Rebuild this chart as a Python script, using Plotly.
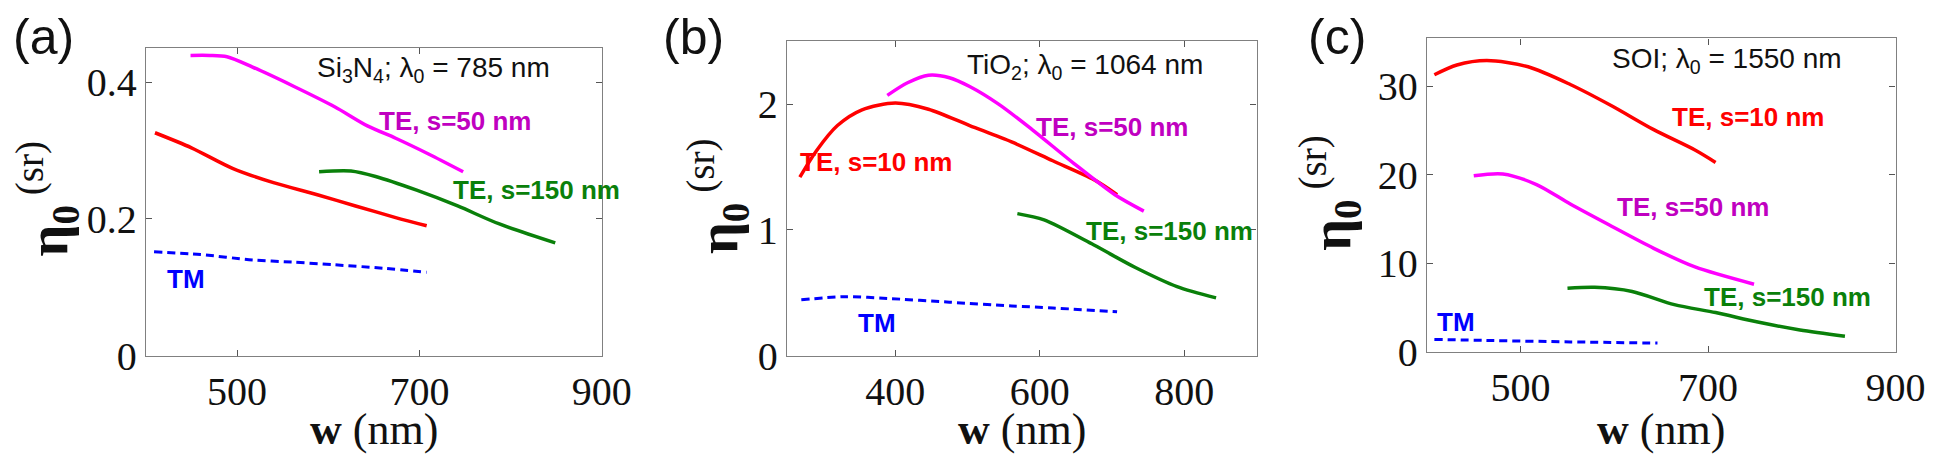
import plotly.graph_objects as go

# ---------------- data ----------------
# panel (a) Si3N4, lambda0 = 785 nm
a_w_te10 = [410, 450, 495, 540, 589, 630, 674, 708]
a_te10 = [0.326, 0.304, 0.274, 0.253, 0.235, 0.219, 0.202, 0.190]
a_w_te50 = [449, 470, 489, 517, 562, 607, 643, 674, 710, 748]
a_te50 = [0.439, 0.439, 0.437, 0.422, 0.394, 0.364, 0.336, 0.318, 0.295, 0.269]
a_w_te150 = [590, 625, 652, 697, 742, 787, 849]
a_te150 = [0.269, 0.270, 0.262, 0.242, 0.219, 0.193, 0.165]
a_w_tm = [409, 460, 517, 560, 607, 660, 708]
a_tm = [0.152, 0.148, 0.140, 0.137, 0.133, 0.128, 0.122]

# panel (b) TiO2, lambda0 = 1064 nm
b_w_te10 = [268, 291, 320, 354, 400, 446, 503, 561, 618, 675, 707]
b_te10 = [1.42, 1.63, 1.83, 1.955, 2.01, 1.96, 1.83, 1.70, 1.55, 1.40, 1.28]
b_w_te50 = [389, 417, 446, 475, 503, 543, 589, 647, 704, 744]
b_te50 = [2.07, 2.17, 2.23, 2.21, 2.14, 2.00, 1.80, 1.53, 1.28, 1.15]
b_w_te150 = [569, 606, 675, 733, 790, 844]
b_te150 = [1.13, 1.08, 0.88, 0.70, 0.55, 0.46]
b_w_tm = [270, 331, 389, 475, 561, 618, 707]
b_tm = [0.445, 0.47, 0.456, 0.426, 0.396, 0.38, 0.35]

# panel (c) SOI, lambda0 = 1550 nm
c_w_te10 = [408, 432, 464, 508, 553, 597, 642, 686, 708]
c_te10 = [31.3, 32.4, 32.9, 32.2, 30.2, 27.8, 25.1, 22.8, 21.4]
c_w_te50 = [450, 481, 517, 553, 597, 642, 686, 749]
c_te50 = [19.9, 20.1, 18.9, 16.7, 14.2, 11.7, 9.6, 7.65]
c_w_te150 = [550, 579, 619, 664, 708, 753, 798, 846]
c_te150 = [7.19, 7.3, 6.83, 5.34, 4.45, 3.38, 2.49, 1.78]
c_w_tm = [408, 464, 553, 646]
c_tm = [1.42, 1.3, 1.14, 1.0]

panel_letters = ["(a)", "(b)", "(c)"]
panel_titles = ["Si<sub>3</sub>N<sub>4</sub>; λ<sub>0</sub> = 785 nm",
                "TiO<sub>2</sub>; λ<sub>0</sub> = 1064 nm",
                "SOI; λ<sub>0</sub> = 1550 nm"]
label_te10 = "TE, s=10 nm"
label_te50 = "TE, s=50 nm"
label_te150 = "TE, s=150 nm"
label_tm = "TM"

a_xticks = [500, 700, 900]
a_yticks = [0, 0.2, 0.4]
a_yticktext = ["0", "0.2", "0.4"]
b_xticks = [400, 600, 800]
b_yticks = [0, 1, 2]
c_xticks = [500, 700, 900]
c_yticks = [0, 10, 20, 30]

# ---------------- style ----------------
RED = "#ff0000"
MAG = "#ff00ff"
MAG_TXT = "#c000c0"
GRN = "#0a800a"
BLUE = "#0000ff"
SERIF = "Liberation Serif"
SANS = "Liberation Sans"

W, H = 1954, 462

fig = go.Figure()

panels = [
    dict(ax="", te10=(a_w_te10, a_te10), te50=(a_w_te50, a_te50), te150=(a_w_te150, a_te150),
         tm=(a_w_tm, a_tm), xr=[400, 900], yr=[0, 0.45], xt=a_xticks, yt=a_yticks, ytt=a_yticktext,
         box=(140, 603, 42, 366),
         ann=dict(title=(586, 0.418), te10=(396, 0.347), te50=(654, 0.343), te150=(735, 0.242), tm=(421, 0.112)),
         letter_x=36, ytitle_off=100, ytitle_y=200),
    dict(ax="2", te10=(b_w_te10, b_te10), te50=(b_w_te50, b_te50), te150=(b_w_te150, b_te150),
         tm=(b_w_tm, b_tm), xr=[250, 900], yr=[0, 2.5], xt=b_xticks, yt=b_yticks, ytt=[str(v) for v in b_yticks],
         box=(791, 1268, 35, 366),
         ann=dict(title=(496, 2.30), te10=(265, 1.54), te50=(592, 1.82), te150=(661, 0.99), tm=(346, 0.26)),
         letter_x=696, ytitle_off=70, ytitle_y=198),
    dict(ax="3", te10=(c_w_te10, c_te10), te50=(c_w_te50, c_te50), te150=(c_w_te150, c_te150),
         tm=(c_w_tm, c_tm), xr=[400, 900], yr=[0, 35.4], xt=c_xticks, yt=c_yticks, ytt=[str(v) for v in c_yticks],
         box=(1441, 1917, 32, 362),
         ann=dict(title=(595, 32.9), te10=(659, 26.5), te50=(601, 16.4), te150=(694, 6.2), tm=(409, 3.4)),
         letter_x=1350, ytitle_off=98, ytitle_y=194),
]

annotations = []
for i, p in enumerate(panels):
    xa = "x" + p["ax"]
    ya = "y" + p["ax"]
    for key, col, dash in [("te10", RED, "solid"), ("te50", MAG, "solid"),
                           ("te150", GRN, "solid"), ("tm", BLUE, "8px,5px")]:
        xs, ys = p[key]
        fig.add_trace(go.Scatter(x=xs, y=ys, mode="lines", xaxis=xa, yaxis=ya,
                                 line=dict(color=col, width=3.5 if dash == "solid" else 3,
                                           dash=dash, shape="spline", smoothing=0.8),
                                 showlegend=False, hoverinfo="skip"))
    l, r, t, b = p["box"]
    dom_x = [l / W, r / W]
    dom_y = [(H - b) / H, (H - t) / H]
    axis_common = dict(showline=True, linecolor="#808080", linewidth=1.2, mirror="allticks",
                       ticks="inside", ticklen=6, tickcolor="#555555", tickwidth=1,
                       showgrid=False, zeroline=False,
                       tickfont=dict(family=SERIF, size=40, color="#111111"))
    fig.update_layout(**{
        "xaxis" + p["ax"]: dict(domain=dom_x, range=p["xr"], tickvals=p["xt"], anchor=ya, **axis_common),
        "yaxis" + p["ax"]: dict(domain=dom_y, range=p["yr"], tickvals=p["yt"], ticktext=p["ytt"],
                                 anchor=xa, **axis_common),
    })
    an = p["ann"]
    annotations.append(dict(x=an["title"][0], y=an["title"][1], xref=xa, yref=ya, text=panel_titles[i],
                            showarrow=False, xanchor="left", yanchor="middle",
                            font=dict(family=SANS, size=28, color="#111111")))
    for key, txt, col in [("te10", label_te10, RED), ("te50", label_te50, MAG_TXT),
                          ("te150", label_te150, GRN), ("tm", label_tm, BLUE)]:
        annotations.append(dict(x=an[key][0], y=an[key][1], xref=xa, yref=ya, text="<b>" + txt + "</b>",
                                showarrow=False, xanchor="left", yanchor="middle",
                                font=dict(family=SANS, size=26, color=col)))
    # panel letter
    annotations.append(dict(x=p["letter_x"] / W, y=(H - 30) / H, xref="paper", yref="paper",
                            text=panel_letters[i], showarrow=False, xanchor="center", yanchor="middle",
                            font=dict(family=SANS, size=50, color="#111111")))
    # x title
    annotations.append(dict(x=(l + r) / 2 / W, y=(H - 444) / H, xref="paper", yref="paper",
                            text="<b>w</b> (nm)", showarrow=False, xanchor="center", yanchor="middle",
                            font=dict(family=SERIF, size=44, color="#111111")))
    # y title
    annotations.append(dict(x=(l - p["ytitle_off"]) / W, y=(H - p["ytitle_y"]) / H, xref="paper", yref="paper",
                            text="<b>η<sub>0</sub></b><sup> (sr)</sup>", textangle=-90, showarrow=False,
                            xanchor="center", yanchor="middle",
                            font=dict(family=SERIF, size=56, color="#111111")))

fig.update_layout(width=W, height=H, margin=dict(l=0, r=0, t=0, b=0),
                  paper_bgcolor="white", plot_bgcolor="white", annotations=annotations)

fig.write_html("out.html")
